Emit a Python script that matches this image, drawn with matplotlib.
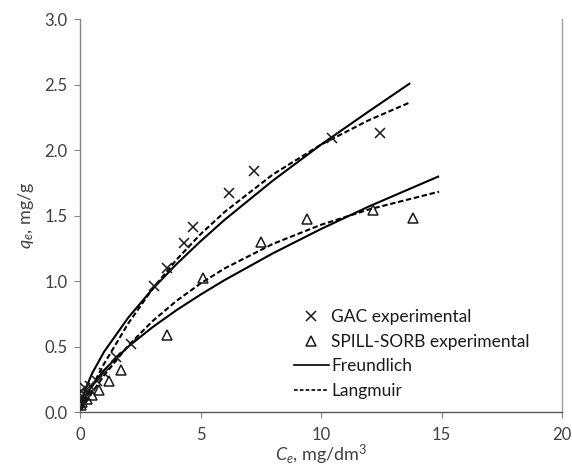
import matplotlib
matplotlib.use("Agg")
import matplotlib.pyplot as plt
from matplotlib.lines import Line2D

plt.rcParams['font.family'] = ['Lato', 'DejaVu Sans']
plt.rcParams['mathtext.fontset'] = 'custom'
plt.rcParams['mathtext.rm'] = 'Lato'
plt.rcParams['mathtext.it'] = 'Lato:italic'

# Experimental data
gac_c = [0.05, 0.1, 0.2, 0.4, 0.7, 1.0, 1.5, 2.1, 3.05, 3.6, 4.3, 4.7, 6.2, 7.2, 10.45, 12.45]
gac_q = [0.16, 0.12, 0.18, 0.20, 0.24, 0.30, 0.42, 0.52, 0.96, 1.10, 1.29, 1.41, 1.67, 1.84, 2.09, 2.13]
spill_c = [0.05, 0.1, 0.3, 0.5, 0.8, 1.2, 1.7, 3.6, 5.1, 7.5, 9.4, 12.15, 13.8]
spill_q = [0.05, 0.08, 0.10, 0.13, 0.17, 0.24, 0.32, 0.59, 1.02, 1.30, 1.47, 1.54, 1.48]

# Model curves
gac_line_c = [0.05, 0.2, 0.5, 1, 2, 3, 4, 5, 6, 8, 10, 12, 13.7]
gac_freu_q = [0.066, 0.162, 0.294, 0.46, 0.72, 0.937, 1.128, 1.303, 1.467, 1.766, 2.041, 2.297, 2.51]
gac_lang_q = [0.020, 0.079, 0.193, 0.368, 0.676, 0.938, 1.162, 1.357, 1.527, 1.813, 2.041, 2.229, 2.364]
spill_line_c = [0.05, 0.2, 0.5, 1, 2, 3, 4, 5, 6, 8, 10, 12, 14.9]
spill_freu_q = [0.047, 0.114, 0.205, 0.32, 0.499, 0.646, 0.777, 0.896, 1.007, 1.211, 1.397, 1.570, 1.80]
spill_lang_q = [0.016, 0.061, 0.148, 0.280, 0.506, 0.692, 0.848, 0.981, 1.096, 1.283, 1.429, 1.547, 1.682]

x_ticks = [0, 5, 10, 15, 20]
y_ticks = [0.0, 0.5, 1.0, 1.5, 2.0, 2.5, 3.0]
legend_labels = ["GAC experimental", "SPILL-SORB experimental", "Freundlich", "Langmuir"]

fig = plt.figure(figsize=(5.72, 4.69), dpi=100)
ax = fig.add_axes([80/572, 1-412/469, (562-80)/572, (412-19)/469])

dash = (2.6, 1.3)
for c, q in [(gac_line_c, gac_freu_q), (spill_line_c, spill_freu_q)]:
    ax.plot(c, q, color='black', lw=1.5, solid_capstyle='butt', zorder=3)
for c, q in [(gac_line_c, gac_lang_q), (spill_line_c, spill_lang_q)]:
    ax.plot(c, q, color='black', lw=1.5, dashes=dash, zorder=3)

ax.plot(gac_c, gac_q, linestyle='none', marker='x', ms=7, mew=1.1, color='#1a1a1a', zorder=4)
ax.plot(spill_c, spill_q, linestyle='none', marker='^', ms=7.5, mew=1.1,
        mfc='none', mec='#1a1a1a', zorder=4)

ax.set_xlim(0, 20)
ax.set_ylim(0, 3.0)
ax.set_xticks(x_ticks)
ax.set_yticks(y_ticks)
ax.set_xticklabels([str(t) for t in x_ticks])
ax.set_yticklabels([f"{t:.1f}" for t in y_ticks])
ax.tick_params(axis='both', direction='out', length=4, width=0.8, colors='#868686',
               labelcolor='#404040', labelsize=12)
ax.tick_params(axis='x', pad=7)
ax.tick_params(axis='y', pad=5)

ax.spines['top'].set_visible(False)
ax.spines['left'].set_color('#868686')
ax.spines['right'].set_color('#a0a0a0')
ax.spines['bottom'].set_color('#595959')
for s in ['left', 'right', 'bottom']:
    ax.spines[s].set_linewidth(1.0)

ax.set_xlabel(r'$C_{e}$, mg/dm$^{3}$', fontsize=13, color='#404040', labelpad=0)
ax.set_ylabel(r'$q_{e}$, mg/g', fontsize=13, color='#404040', labelpad=6)

handles = [
    Line2D([], [], linestyle='none', marker='x', ms=7, mew=1.1, color='#1a1a1a'),
    Line2D([], [], linestyle='none', marker='^', ms=7.5, mew=1.1, mfc='none', mec='#1a1a1a'),
    Line2D([], [], color='black', lw=1.2),
    Line2D([], [], color='black', lw=1.2, dashes=(2.2, 1.3)),
]
leg = ax.legend(handles, legend_labels, loc='upper left',
                bbox_to_anchor=((294-80)/482, (412-309)/393), frameon=False,
                fontsize=12.5, handlelength=2.0, handletextpad=0.15,
                labelspacing=0.5, borderpad=0, borderaxespad=0)
for t in leg.get_texts():
    t.set_color('#1a1a1a')

fig.savefig('out.png', dpi=100)
